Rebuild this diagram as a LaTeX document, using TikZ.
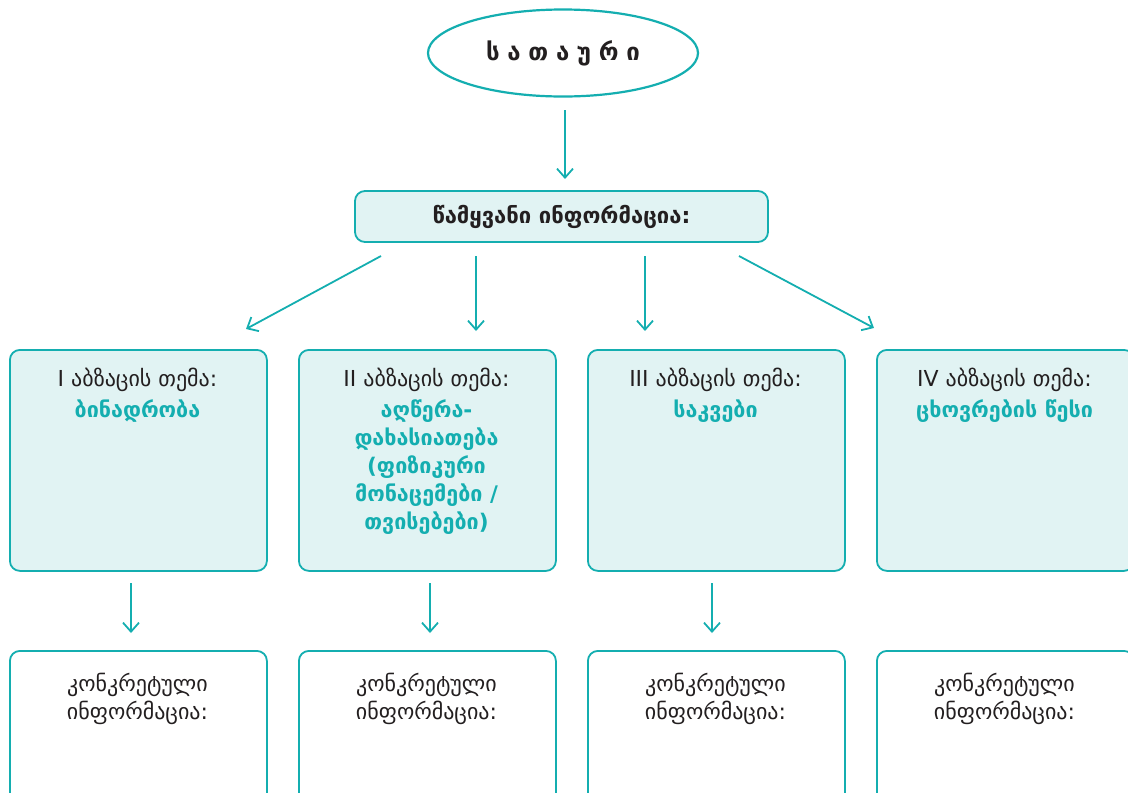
\documentclass[tikz,border=0pt]{standalone}
\usepackage{fontspec}
\setmainfont{DejaVu Sans}
\usetikzlibrary{arrows.meta,shapes.geometric}
\definecolor{teal1}{HTML}{14AEB0}
\definecolor{fill1}{HTML}{E1F3F3}
\definecolor{dark1}{HTML}{231F20}
\tikzset{
  conn/.style={draw=teal1,line width=1.8pt,-{Straight Barb[length=9pt,width=16pt,line width=1.8pt]}},
  topicbox/.style={draw=teal1,line width=1.8pt,fill=fill1,rounded corners=10pt,minimum width=257pt,minimum height=221pt,anchor=north west,inner sep=0pt},
  infobox/.style={draw=teal1,line width=1.8pt,fill=white,rounded corners=10pt,minimum width=257pt,minimum height=160pt,anchor=north west,inner sep=0pt},
  headtxt/.style={text=dark1,font=\fontsize{22}{26}\selectfont,anchor=center},
  greentxt/.style={text=teal1,font=\bfseries\fontsize{21.5}{28}\selectfont,align=center,anchor=north},
  infotxt/.style={text=dark1,font=\fontsize{22}{28}\selectfont,align=center,anchor=north}
}
\begin{document}
\begin{tikzpicture}[x=1pt,y=-1pt]
\useasboundingbox (0,0) rectangle (1128,793);
% title
\node[ellipse,draw=teal1,line width=2.2pt,fill=white,minimum width=270pt,minimum height=87pt,inner sep=0pt,font=\bfseries\fontsize{24}{28}\selectfont,text=dark1] (title) at (563,53) {ს\hspace{0.32em}ა\hspace{0.32em}თ\hspace{0.32em}ა\hspace{0.32em}უ\hspace{0.32em}რ\hspace{0.32em}ი};
\coordinate (ta) at (565,110);
\coordinate (tb) at (565,179);
\draw[conn] (ta) -- (tb);
% lead box
\node[draw=teal1,line width=1.8pt,fill=fill1,rounded corners=10pt,minimum width=413pt,minimum height=51pt,inner sep=0pt,font=\bfseries\fontsize{22}{26}\selectfont,text=dark1] (lead) at (561.5,216.5) {წამყვანი ინფორმაცია:};
% topic boxes
\node[topicbox] (b1) at (9,349) {};
\node[topicbox] (b2) at (298,349) {};
\node[topicbox] (b3) at (587,349) {};
\node[topicbox] (b4) at (876,349) {};
% arrows from lead
\coordinate (l1) at (381,256); \coordinate (e1) at (246,329);
\coordinate (l2) at (476,256); \coordinate (e2) at (476,331);
\coordinate (l3) at (645,256); \coordinate (e3) at (645,331);
\coordinate (l4) at (739,256); \coordinate (e4) at (874,328);
\draw[conn] (l1) -- (e1);
\draw[conn] (l2) -- (e2);
\draw[conn] (l3) -- (e3);
\draw[conn] (l4) -- (e4);
% texts
\node[headtxt] (h1) at (137.5,380) {I აბზაცის თემა:};
\node[headtxt] (h2) at (426.5,380) {II აბზაცის თემა:};
\node[headtxt] (h3) at (715.5,380) {III აბზაცის თემა:};
\node[headtxt] (h4) at (1004.5,380) {IV აბზაცის თემა:};
\node[greentxt] (g1) at (137.5,396) {ბინადრობა};
\node[greentxt] (g2) at (426.5,396) {აღწერა-\\დახასიათება\\(ფიზიკური\\მონაცემები /\\თვისებები)};
\node[greentxt] (g3) at (715.5,396) {საკვები};
\node[greentxt] (g4) at (1004.5,396) {ცხოვრების წესი};
% info boxes
\node[infobox] (i1) at (9,650) {};
\node[infobox] (i2) at (298,650) {};
\node[infobox] (i3) at (587,650) {};
\node[infobox] (i4) at (876,650) {};
\node[infotxt] (it1) at (137.5,670) {კონკრეტული\\ინფორმაცია:};
\node[infotxt] (it2) at (426.5,670) {კონკრეტული\\ინფორმაცია:};
\node[infotxt] (it3) at (715.5,670) {კონკრეტული\\ინფორმაცია:};
\node[infotxt] (it4) at (1004.5,670) {კონკრეტული\\ინფორმაცია:};
% down arrows
\coordinate (d1a) at (131,583); \coordinate (d1b) at (131,633);
\coordinate (d2a) at (430,583); \coordinate (d2b) at (430,633);
\coordinate (d3a) at (712,583); \coordinate (d3b) at (712,633);
\draw[conn] (d1a) -- (d1b);
\draw[conn] (d2a) -- (d2b);
\draw[conn] (d3a) -- (d3b);
\end{tikzpicture}
\end{document}
